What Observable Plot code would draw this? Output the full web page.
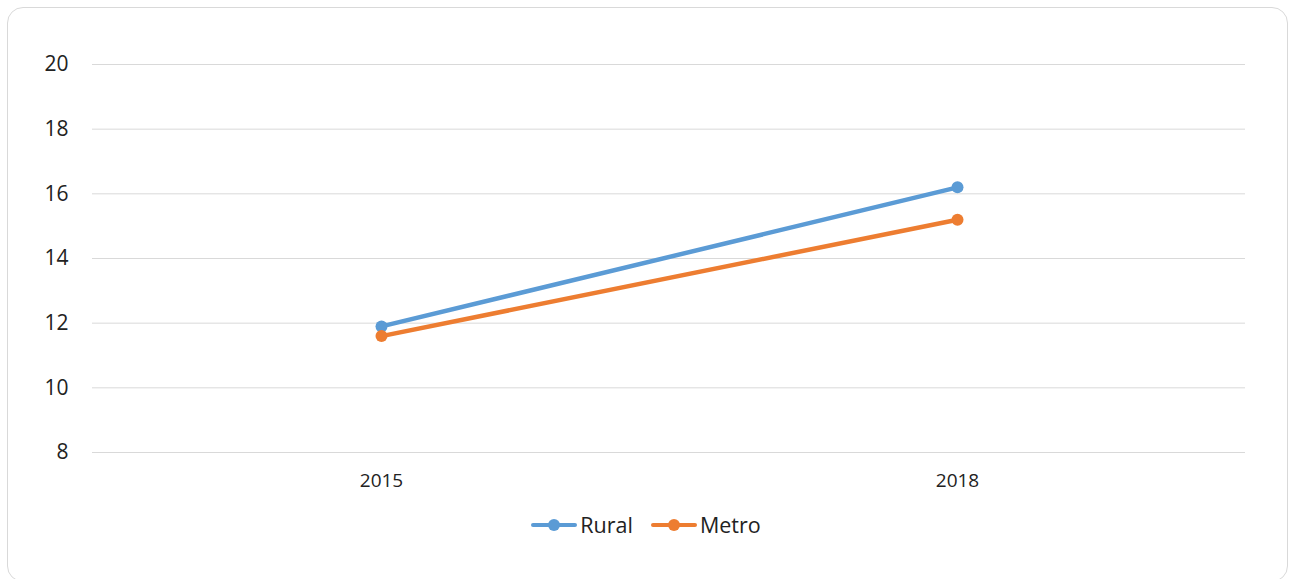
<!DOCTYPE html>
<html><head><meta charset="utf-8">
<script src="https://cdn.jsdelivr.net/npm/d3@7"></script>
<script src="https://cdn.jsdelivr.net/npm/@observablehq/plot@0.6"></script>
<style>
html,body{margin:0;padding:0;background:#fff;width:1292px;height:579px;overflow:hidden;font-family:"Open Sans",sans-serif;}
#card{position:absolute;left:7px;top:7px;width:1281px;height:575px;border:1px solid #d9d9d9;border-radius:16px;box-sizing:border-box;}
#chart{position:absolute;left:0;top:0;}
#legend{position:absolute;left:0;top:510px;width:1292px;display:flex;justify-content:center;gap:18px;font-size:21.5px;color:#222;}
.item{display:flex;align-items:center;gap:3px;}
</style></head><body>
<div id="card"></div>
<div id="chart"></div>
<div id="legend"></div>
<script>
const years = ["2015", "2018"];
const seriesNames = ["Rural", "Metro"];
const rural = [11.9, 16.2];
const metro = [11.6, 15.2];
const colors = ["#5b9bd5", "#ed7d31"];
const yTicks = [8, 10, 12, 14, 16, 18, 20];

const values = [rural, metro];
const data = [];
seriesNames.forEach((s, si) => years.forEach((y, i) => data.push({series: s, year: y, value: values[si][i]})));

const plot = Plot.plot({
  width: 1292,
  height: 500,
  marginTop: 64,
  marginBottom: 48,
  marginLeft: 92,
  marginRight: 47,
  style: {fontFamily: "Open Sans, sans-serif", background: "transparent", overflow: "visible"},
  x: {type: "point", domain: years, padding: 0.5, label: null},
  y: {domain: [8, 20], label: null},
  color: {domain: seriesNames, range: colors},
  marks: [
    Plot.gridY(yTicks, {stroke: "#d9d9d9", strokeOpacity: 1, strokeWidth: 1}),
    Plot.axisY(yTicks, {tickSize: 0, tickPadding: 24, fontSize: 21, fill: "#222", label: null}),
    Plot.axisX(years, {tickSize: 0, tickPadding: 21, fontSize: 19, fill: "#222", label: null}),
    Plot.line(data, {x: "year", y: "value", z: "series", stroke: "series", strokeWidth: 4.5}),
    Plot.dot(data, {x: "year", y: "value", fill: "series", r: 6})
  ]
});
document.getElementById("chart").appendChild(plot);

const legend = document.getElementById("legend");
seriesNames.forEach((s, i) => {
  const item = document.createElement("div");
  item.className = "item";
  item.innerHTML = `<svg width="46" height="14"><line x1="2" x2="44" y1="7" y2="7" stroke="${colors[i]}" stroke-width="4" stroke-linecap="round"/><circle cx="23" cy="7" r="6" fill="${colors[i]}"/></svg><span>${s}</span>`;
  legend.appendChild(item);
});
</script>
</body></html>
